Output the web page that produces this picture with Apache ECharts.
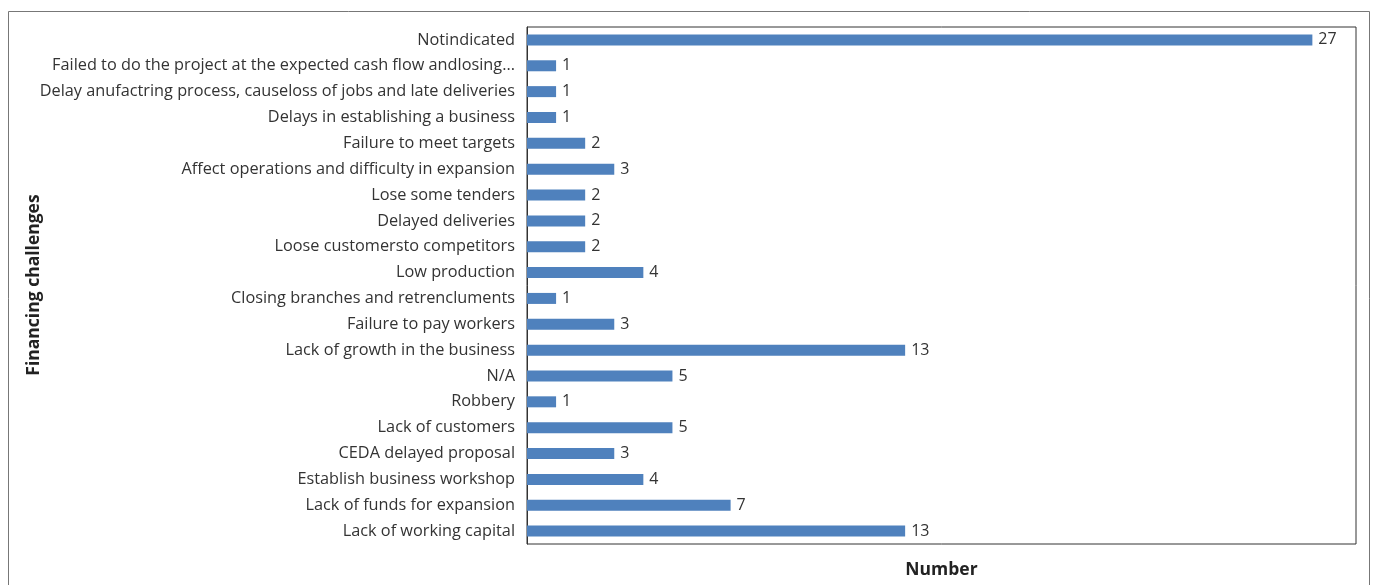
<!DOCTYPE html>
<html>
<head>
<meta charset="utf-8">
<script src="https://cdn.jsdelivr.net/npm/echarts@6/dist/echarts.min.js"></script>
<style>
html,body{margin:0;padding:0;background:#fff;}
#c{width:1373px;height:585px;}
</style>
</head>
<body>
<div id="c"></div>
<script>
// categories listed top to bottom
const categories = [
  "Notindicated",
  "Failed to do the project at the expected cash flow andlosing...",
  "Delay anufactring process, causeloss of jobs and late deliveries",
  "Delays in establishing a business",
  "Failure to meet targets",
  "Affect operations and difficulty in expansion",
  "Lose some tenders",
  "Delayed deliveries",
  "Loose customersto competitors",
  "Low production",
  "Closing branches and retrencluments",
  "Failure to pay workers",
  "Lack of growth in the business",
  "N/A",
  "Robbery",
  "Lack of customers",
  "CEDA delayed proposal",
  "Establish business workshop",
  "Lack of funds for expansion",
  "Lack of working capital"
];
const values = [27, 1, 1, 1, 2, 3, 2, 2, 2, 4, 1, 3, 13, 5, 1, 5, 3, 4, 7, 13];
const xTitle = "Number";
const yTitle = "Financing challenges";

const font = "'Open Sans', 'Liberation Sans', sans-serif";
const chart = echarts.init(document.getElementById('c'));
chart.setOption({
  animation: false,
  graphic: [{
    type: 'rect',
    shape: {x: 8.5, y: 11.5, width: 1361, height: 600},
    style: {fill: 'none', stroke: '#777', lineWidth: 1}
  }, {
    type: 'text',
    x: 34, y: 285, rotation: Math.PI / 2,
    style: {text: yTitle, fontFamily: font, fontWeight: 'bold', fontSize: 17.5, fill: '#222',
            align: 'center', verticalAlign: 'middle'}
  }],
  grid: {left: 527, right: 17, top: 27, bottom: 41, show: true, borderColor: '#333', borderWidth: 1},
  xAxis: {
    type: 'value', min: 0, max: 28.5,
    axisLabel: {show: false}, axisTick: {show: false}, axisLine: {show: false}, splitLine: {show: false},
    name: xTitle, nameLocation: 'middle', nameGap: 17,
    nameTextStyle: {fontFamily: font, fontWeight: 'bold', fontSize: 17.5, color: '#222'}
  },
  yAxis: {
    type: 'category', data: categories, inverse: true,
    axisTick: {show: false}, axisLine: {show: true, lineStyle: {color: '#333'}},
    axisLabel: {fontFamily: font, fontSize: 16.3, color: '#333', margin: 12}
  },
  series: [{
    type: 'bar', data: values, barWidth: 11,
    itemStyle: {color: '#4F81BD'},
    label: {show: true, position: 'right', distance: 6, fontFamily: font, fontSize: 16, color: '#333'}
  }]
});
</script>
</body>
</html>
